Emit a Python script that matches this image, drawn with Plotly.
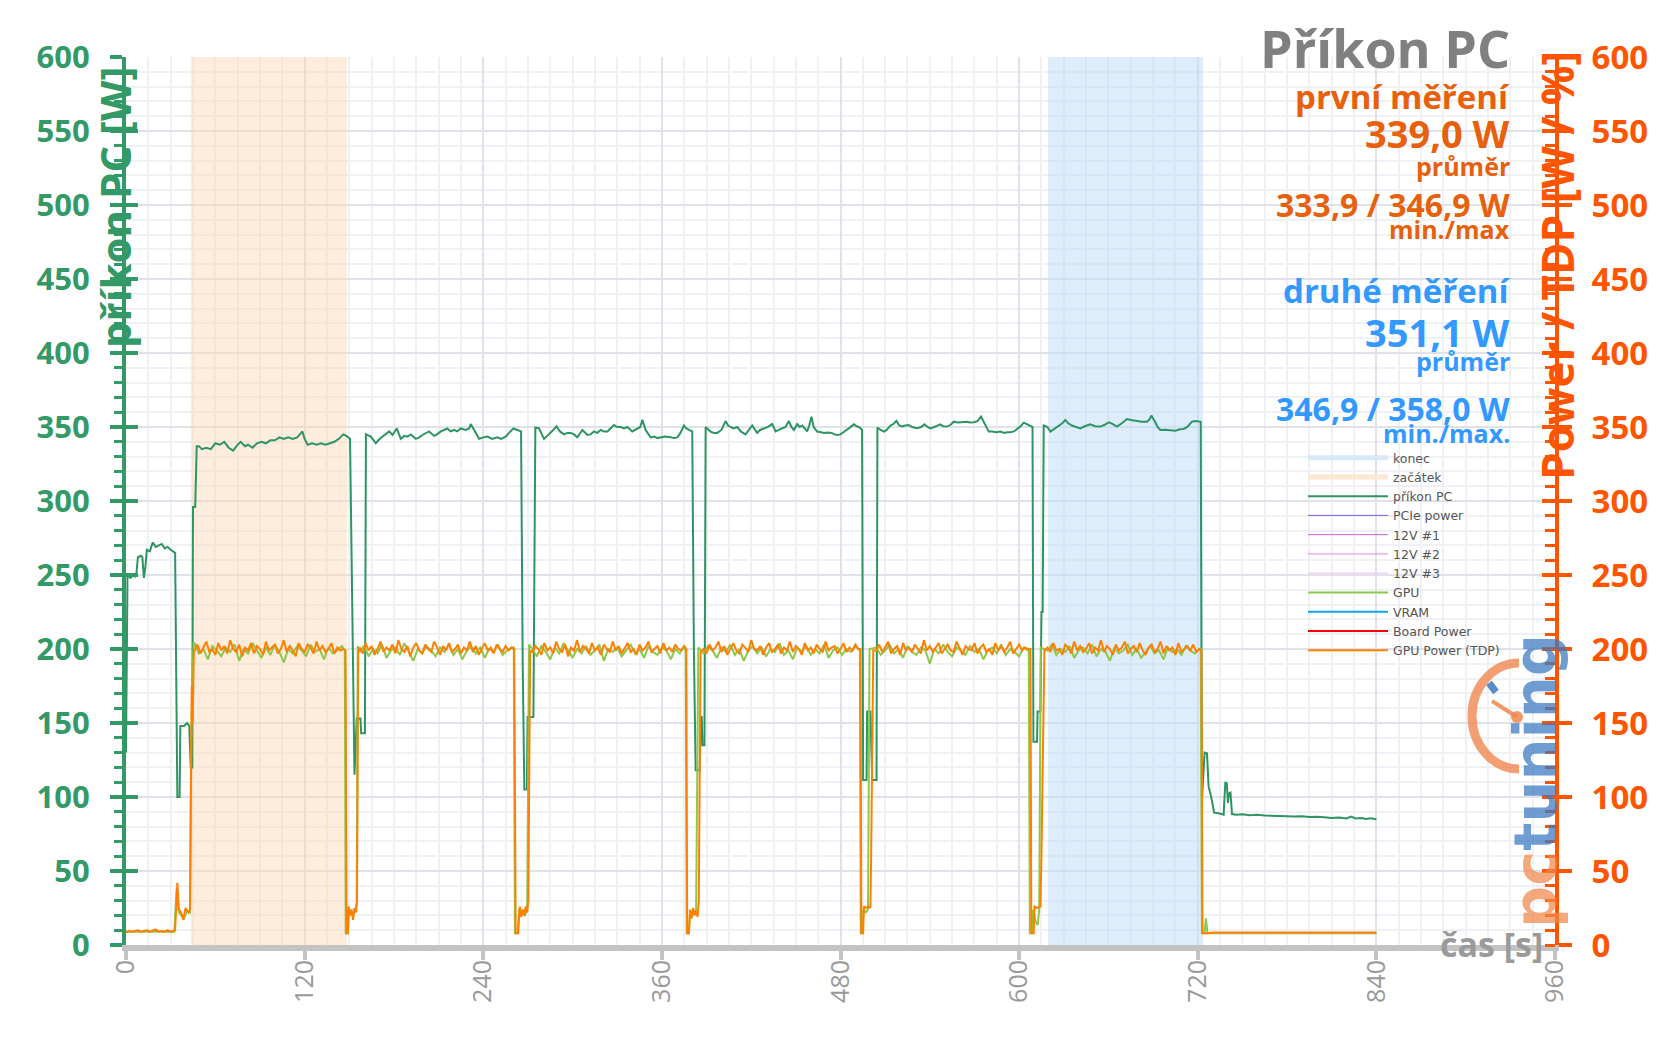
import plotly.graph_objects as go

# ---------------- data ----------------
# shaded measurement windows [s]
region_names = ["konec", "začátek"]
region_start = [619.5, 43.5]
region_end = [723.5, 148.4]

# PC power (wall) [W]
pc_t = [0, 1, 3, 5, 6, 7, 8, 10, 11, 12, 13, 14, 16, 18, 20, 22, 24, 26, 28, 30, 32, 33,
        34.5, 36, 36.5, 39, 41, 42.5, 43.5, 44.5, 45, 46.5, 47.5, 49, 51, 54, 57, 60, 63, 66,
        69, 72, 75, 77, 80, 82, 85, 88, 91, 94, 97, 100, 103, 106, 109, 112, 115, 117, 118.5,
        120, 122, 125, 128, 131, 134, 137, 140, 143, 146, 148, 150.5, 153.5, 155, 157.5, 158,
        160.5, 161.2,
        164.5, 167.8, 170.5, 173.4, 176.8, 179, 181.9, 184.6, 187, 189.1, 191.3, 194.7, 197,
        199.1, 201.5, 203.6, 207, 209, 211.5, 214, 215.9, 218, 220.4, 222.5, 224.9, 228.2,
        230.5, 231.6, 233.8, 235, 237.2, 240, 242.8, 246, 249.5, 252, 255.1, 257.3, 260.2,
        262.9, 265.4, 266.5, 267.6, 269.3, 269.8, 273.7, 275,
        277.5, 280.8, 283, 285.3, 287, 289.3, 291.5, 294.3, 296.5, 298.7, 301, 303.2, 306.6,
        310, 312, 314.4, 316.5, 318.9, 321, 323.4, 325.5, 327.8, 330, 332.3, 334.5, 336.8,
        340.1, 343.5, 345.5, 346.9, 349.1, 352.4, 355, 357, 359.2, 362, 365.9, 368, 370.4,
        372.5, 374.8, 376.5, 378.2, 380.4, 381.5, 382.7, 385.5, 386, 386.8, 387.2, 388.6, 389.4,
        392.7, 395, 397.2, 400, 402.8, 404.5, 406.2, 408, 410.6, 413, 416.2, 418.5, 420.7, 422,
        424, 426, 428.5, 431, 434.1, 436.4, 438.5, 440.8, 443, 445.3, 447, 448.7, 450.9, 452.5,
        454.3, 456, 457.6, 459, 460.5, 462, 464.3, 467, 469, 471, 474, 476, 477.8, 480, 482.2,
        484, 485.6, 487.5, 489, 491, 493, 494.5, 495.2, 497.5, 497.9, 500.1, 501.3, 504.2, 504.8,
        507, 509.1, 511, 513.6, 515.5, 517.6, 519.5, 521.4, 523.5, 525.9, 528, 531.5, 534,
        536.4, 538.5, 540.4, 543, 545, 547.1, 549, 551.6, 554, 556.1, 559, 562, 565, 567, 569.5,
        572, 574.4, 576.2, 578, 579.6, 582, 584.5, 587.4, 590, 592, 594.1, 596.5, 598.6, 601,
        603.1, 605.5, 607.6, 609, 609.6, 612, 612.4, 614.3, 615, 615.8, 616.5,
        619, 621, 624, 626.6, 629, 631.1, 633, 635.5, 638, 641.1, 644, 647.8, 651, 654.6, 657.5,
        660.2, 663, 665.8, 669, 672.5, 676, 679.2, 682.5, 685.9, 687.5, 688.8, 690, 691.5, 693,
        694.8, 698, 701.6, 705, 708, 710.5, 713, 716.1, 718.5, 720.6, 722,
        722.8, 724.6, 726.2, 727.3, 729, 731, 734, 737.4, 738.5, 739.5, 740.3, 741, 742, 743,
        746, 750, 755, 760, 765, 770, 775, 780, 785, 790, 795, 800, 805, 810, 815, 820, 823,
        826, 830, 833, 836, 840]
pc_v = [130, 250, 248, 250, 249, 251, 262, 263, 262, 248, 255, 267, 266, 272, 269, 270, 271, 268, 269, 267, 266, 265,
        100, 100, 148, 148, 150, 148, 120, 120, 296, 296, 337, 337, 335, 336, 335, 339, 338, 340,
        336, 334, 338, 340, 337, 338, 336, 339, 340, 339, 341, 341, 343, 342, 343, 342, 343, 345, 347,
        342, 338, 339, 338, 339, 338, 339, 340, 342, 345, 344, 342, 115, 153, 153, 143,
        143, 345,
        343.5, 339, 342, 344.6, 347, 344.6, 349, 342, 344, 343.5, 345, 342, 343,
        344.6, 346, 347, 344, 345, 347, 348, 349, 347, 348, 347, 349, 348,
        349, 352, 348, 345, 342, 343, 343.5, 342, 343, 342, 343.5, 346, 349,
        348, 347, 190, 105, 105, 154, 154, 349.6,
        349, 342, 344, 346, 348, 350.5, 347, 345, 346, 346, 345, 343, 348,
        344.6, 345, 347, 346, 348, 347, 347, 349, 351.4, 350, 350, 349, 350,
        347, 349, 350, 354.8, 348, 343, 343.5, 342.5, 343, 343.5, 343, 342.5, 343,
        346, 351, 349, 348, 347, 200, 118, 118, 154, 154, 135, 135, 350,
        346.9, 346, 346, 348, 354, 351, 350, 349, 350, 347, 345, 348, 351, 349,
        346, 348, 349, 350, 352, 347, 348, 349, 350, 354, 350, 348, 352, 350,
        351, 349, 347, 351, 357, 350, 346.9, 346.5, 346, 346.2, 346, 345, 344.6, 345, 346.9,
        348, 349.1, 350.5, 351.8, 350.5, 349.6, 348, 111.5, 111.5, 157.7, 157.7, 111.5, 111.5, 349.6,
        348, 346.9, 348, 351, 352, 354.1, 351, 350.3, 351, 351.4, 350, 349.1, 350,
        351.8, 350, 349.1, 350, 351, 351.8, 350.5, 350.3, 351.5, 353.6, 353, 353.2, 353.6, 353, 353.2,
        354, 357, 353.6, 350, 346.9, 347, 346.5, 346.9, 346, 346.5, 346.4, 347, 348.7, 350.5,
        352.9, 351.5, 350.3, 350, 137.4, 137.4, 157.7, 157.7, 225, 225, 351,
        350, 346.9, 349, 351.4, 352.5, 354.8, 352.5, 351, 350, 349.1, 350.5, 351.8, 350.5, 350.3, 351.5,
        353.2, 352, 350.3, 352.5, 355.4, 354.5, 354.1, 353.5, 353.6, 355, 357.7, 356, 353.2, 350,
        348, 348.2, 348, 347.5, 348.5, 348.7, 350, 353.6, 354, 353.6, 353.5,
        98, 130, 129.5, 107, 100.2, 89.4, 89, 88, 109.5, 109.2, 96, 102.5, 103, 88.5,
        88, 88.3, 87.7, 88, 87.5, 87.4, 87.6, 87, 86.8, 87, 86.5, 86.7, 86.3, 85.8, 86.2, 85.5, 86.8,
        85.5, 85.8, 85.2, 85.6, 85]

# GPU Power (TDP) [W]: idle start, load runs (2 s samples) and gaps between runs
tdp_idle_t = [0, 2, 4, 6, 8, 10, 12, 14, 16, 18, 20, 22, 24, 26, 28, 30, 32, 33, 34.5, 35.5, 37, 38.5,
              40, 42, 43, 43.7, 44.2, 44.8, 45.6]
tdp_idle_v = [8.5, 9.5, 9, 9.5, 10, 9, 9.5, 10, 9, 9.5, 10.5, 9, 9.5, 9, 10, 9, 9.5, 10, 42, 24, 22, 17,
              25, 22, 24, 120, 175, 150, 200]
tdp_run_start = [46, 157, 273, 388, 504, 619]
tdp_run1 = [199, 203, 197, 201, 205, 198, 200, 196, 204, 199, 202, 197, 206, 200, 198, 203, 195, 201, 199, 204,
            197, 202, 200, 196, 205, 199, 201, 203, 197, 200, 206, 198, 202, 199, 195, 204, 200, 198, 203, 201,
            197, 205, 199, 202, 198, 200, 204, 197, 201, 199, 200]
tdp_run2 = [201, 197, 204, 199, 202, 196, 200, 205, 198, 201, 199, 203, 197, 206, 200, 198, 202, 195, 201, 204,
            199, 197, 203, 200, 198, 205, 201, 196, 202, 199, 204, 198, 200, 203, 197, 201, 199, 205, 198, 202,
            196, 200, 204, 199, 201, 197, 203, 200, 198, 202, 199, 201]
tdp_run3 = [198, 202, 200, 196, 204, 199, 201, 197, 205, 200, 198, 203, 195, 201, 199, 206, 198, 202, 200, 197,
            204, 199, 201, 196, 203, 200, 198, 205, 199, 202, 197, 201, 204, 198, 200, 196, 203, 199, 201, 205,
            198, 200, 202, 197, 204, 199, 201, 198, 203, 200, 199, 202]
tdp_run4 = [200, 197, 203, 199, 201, 205, 198, 202, 196, 200, 204, 199, 197, 203, 201, 198, 206, 200, 199, 202,
            196, 201, 204, 198, 200, 203, 197, 201, 199, 205, 198, 202, 200, 196, 204, 199, 201, 197, 203, 200,
            198, 205, 199, 201, 202, 197, 200, 204, 198, 201, 199, 203, 200]
tdp_run5 = [199, 203, 198, 201, 205, 197, 200, 202, 196, 204, 199, 201, 198, 203, 200, 197, 206, 199, 202, 198,
            201, 204, 197, 200, 203, 199, 198, 205, 201, 196, 202, 200, 199, 204, 197, 201, 203, 198, 200, 196,
            204, 199, 202, 198, 201, 205, 197, 200, 203, 199, 201, 200]
tdp_run6 = [201, 198, 204, 199, 200, 196, 203, 201, 197, 205, 199, 202, 198, 200, 204, 197, 201, 199, 206, 198,
            202, 200, 196, 203, 199, 201, 205, 197, 200, 202, 198, 204, 199, 196, 201, 203, 198, 200, 205, 197,
            202, 199, 201, 196, 204, 198, 200, 202, 199, 203, 198, 200]
tdp_gap_t = [
    [147.5, 148.2, 149, 149.6, 150.5, 151.5, 152.5, 153.5, 154.5, 155.2, 156],
    [260.8, 261.8, 263.5, 264.5, 265.5, 266.5, 267.5, 268.5, 269.5, 270.3, 271.5],
    [376.4, 377, 378.2, 379, 380, 381, 382, 383, 384, 384.8, 386],
    [493.4, 494, 495.2, 495.7, 497, 498.5, 500.1, 500.6, 502],
    [607.6, 608.2, 609.8, 610.3, 612, 614.3, 615, 617],
    [722.5, 723.2, 726, 730, 740, 760, 780, 800, 820, 840],
]
tdp_gap_v = [
    [199, 8, 8, 26, 20, 24, 17, 25, 22, 30, 198],
    [200, 8, 8, 26, 19, 24, 20, 26, 22, 30, 199],
    [200, 8, 8, 24, 18, 25, 20, 23, 19, 30, 198],
    [200, 8, 8, 26, 25, 26, 25, 60, 199],
    [200, 8, 8, 26, 25, 26, 60, 199],
    [199, 8, 8, 8.5, 8.5, 8.5, 8.5, 8.5, 8.5, 8.5],
]

# GPU chip power [W] (3 s samples during load)
gpu_idle_t = [0, 10, 20, 30, 32.5, 34, 35.5, 37, 39, 41, 43, 43.7, 44.5, 45.5]
gpu_idle_v = [9, 9, 9, 9, 9, 38, 22, 20, 18, 23, 22, 130, 180, 204]
gpu_run_start = [46, 157, 273, 388, 504, 619]
gpu_run1 = [204, 197, 200, 193, 202, 199, 195, 201, 198, 203, 192, 200, 197, 204, 199, 194, 201, 196, 203, 198,
            191, 200, 197, 202, 199, 195, 203, 198, 200, 193, 201, 197, 199, 202]
gpu_run2 = [198, 202, 195, 200, 197, 203, 194, 199, 201, 196, 204, 198, 192, 200, 197, 202, 199, 195, 201, 198,
            203, 196, 200, 193, 199, 202, 197, 201, 194, 200, 198, 203, 196, 199, 201]
gpu_run3 = [200, 195, 202, 198, 193, 201, 197, 204, 199, 194, 200, 197, 202, 196, 199, 203, 192, 200, 198, 201,
            195, 199, 203, 197, 200, 194, 202, 198, 196, 201, 199, 193, 200, 197, 202]
gpu_run4 = [197, 202, 199, 194, 201, 198, 203, 196, 200, 192, 199, 202, 197, 201, 195, 200, 198, 204, 196, 199,
            193, 201, 198, 202, 196, 200, 197, 203, 194, 199, 201, 196, 200, 198, 202]
gpu_run5 = [201, 196, 199, 203, 197, 200, 194, 202, 198, 196, 201, 199, 190, 200, 197, 203, 198, 195, 201, 199,
            196, 202, 198, 200, 193, 199, 201, 197, 203, 196, 200, 198, 195, 201, 199]
gpu_run6 = [199, 203, 196, 200, 198, 202, 194, 199, 201, 197, 203, 195, 200, 198, 192, 201, 197, 199, 203, 196,
            200, 194, 198, 202, 197, 199, 193, 201, 198, 200, 196, 202, 199, 197, 200]
gpu_gap_t = [
    [147, 147.6, 149, 149.8, 151, 152.5, 154, 155, 155.7],
    [260.5, 261.3, 263, 264.2, 266, 268, 269.5, 270.8],
    [376, 376.7, 378, 379, 381, 383, 384.5],
    [493, 493.6, 494.8, 495.5, 497, 498.5, 499.5],
    [606.5, 607.2, 608.5, 609.5, 611, 612.5, 613.5, 614.5],
    [722, 722.8, 724.5, 725.5, 726.5, 840],
]
gpu_gap_v = [
    [199, 8, 8, 25, 22, 20, 23, 28, 202],
    [201, 8, 8, 24, 22, 20, 24, 203],
    [198, 8, 8, 22, 21, 24, 201],
    [199, 8, 8, 24, 22, 24, 200],
    [200, 8, 8, 24, 16, 13.5, 24, 201],
    [200, 8, 8, 18, 8, 8],
]

x_ticks = [0, 120, 240, 360, 480, 600, 720, 840, 960]
y_ticks = [0, 50, 100, 150, 200, 250, 300, 350, 400, 450, 500, 550, 600]


def series(idle_t, idle_v, starts, runs, step, gaps_t, gaps_v):
    xs, ys = list(idle_t), list(idle_v)
    for s, run, gt, gv in zip(starts, runs, gaps_t, gaps_v):
        xs += [s + step * i for i in range(len(run))]
        ys += run
        xs += gt
        ys += gv
    return xs, ys


tdp_t, tdp_v = series(tdp_idle_t, tdp_idle_v, tdp_run_start,
                      [tdp_run1, tdp_run2, tdp_run3, tdp_run4, tdp_run5, tdp_run6], 2, tdp_gap_t, tdp_gap_v)
gpu_t, gpu_v = series(gpu_idle_t, gpu_idle_v, gpu_run_start,
                      [gpu_run1, gpu_run2, gpu_run3, gpu_run4, gpu_run5, gpu_run6], 3, gpu_gap_t, gpu_gap_v)

# ---------------- styling ----------------
GREEN = "#339966"
ORANGE_AX = "#ff5500"
ORANGE_TXT = "#e8600c"
BLUE_TXT = "#3399ff"
GRAY = "#9a9a9a"
FONT = "Open Sans"

L, R, T, B = 126, 102, 57, 99
W, H = 1657, 1044
PW, PH = W - L - R, H - T - B


def px(x):
    return (x - L) / PW


def py(y):
    return (T + PH - y) / PH


fig = go.Figure()

region_colors = ["rgba(190,220,250,0.5)", "rgba(253,215,180,0.45)"]
legend_region_colors = ["#d9e9fa", "#fde6d2"]
for name, c in zip(region_names, legend_region_colors):
    fig.add_trace(go.Scatter(x=[None], y=[None], mode="lines", name=name,
                             line=dict(color=c, width=5)))
for s, e, c in zip(region_start, region_end, region_colors):
    fig.add_shape(type="rect", xref="x", yref="y", x0=s, x1=e, y0=0, y1=600,
                  fillcolor=c, line=dict(width=0), layer="between")

fig.add_trace(go.Scatter(x=pc_t, y=pc_v, mode="lines", name="příkon PC",
                         line=dict(color="#2e9463", width=2)))
for name, c in [("PCIe power", "#7b5ce6"), ("12V #1", "#d460d8"), ("12V #2", "#e88ae8"),
                ("12V #3", "#f2b6f2")]:
    fig.add_trace(go.Scatter(x=[None], y=[None], mode="lines", name=name, yaxis="y2",
                             line=dict(color=c, width=1)))
fig.add_trace(go.Scatter(x=gpu_t, y=gpu_v, mode="lines", name="GPU", yaxis="y2",
                         line=dict(color="#8cc84b", width=2)))
fig.add_trace(go.Scatter(x=[None], y=[None], mode="lines", name="VRAM", yaxis="y2",
                         line=dict(color="#12a5e8", width=2)))
fig.add_trace(go.Scatter(x=[None], y=[None], mode="lines", name="Board Power", yaxis="y2",
                         line=dict(color="#ff0000", width=2)))
fig.add_trace(go.Scatter(x=tdp_t, y=tdp_v, mode="lines", name="GPU Power (TDP)", yaxis="y2",
                         line=dict(color="#ff8000", width=2)))
# helpers so the overlay tick axes exist
fig.add_trace(go.Scatter(x=[None], y=[None], yaxis="y3", showlegend=False, hoverinfo="skip"))
fig.add_trace(go.Scatter(x=[None], y=[None], yaxis="y4", showlegend=False, hoverinfo="skip"))

grid_major = "#dfe2e8"
grid_minor = "#eff1f5"

fig.update_layout(
    width=W, height=H,
    margin=dict(l=L, r=R, t=T, b=B, pad=0, autoexpand=False),
    paper_bgcolor="white", plot_bgcolor="white",
    font=dict(family=FONT),
    showlegend=True,
    legend=dict(x=px(1303), y=py(443), xanchor="left", yanchor="top",
                bgcolor="rgba(0,0,0,0)", font=dict(size=12.5, color="#555", family="DejaVu Sans"),
                itemwidth=80, tracegroupgap=0),
    xaxis=dict(range=[0, 960], tickvals=x_ticks, ticktext=[str(v) for v in x_ticks],
               tickangle=-90, tickfont=dict(size=25, color=GRAY, family=FONT),
               showgrid=True, gridcolor=grid_major, gridwidth=2,
               minor=dict(dtick=15, tick0=0, showgrid=True, gridcolor=grid_minor, gridwidth=2, ticks=""),
               showline=True, linecolor="#c3c3c3", linewidth=6,
               ticks="outside", ticklen=9, tickwidth=4, tickcolor="#c3c3c3",
               zeroline=False, automargin=False, ticklabelstandoff=-10),
    yaxis=dict(range=[0, 600], tickvals=y_ticks, showgrid=True, gridcolor=grid_major, gridwidth=2,
               minor=dict(dtick=10, tick0=0, showgrid=True, gridcolor=grid_minor, gridwidth=2,
                          ticks="outside", ticklen=8, tickwidth=3, tickcolor=GREEN),
               tickfont=dict(size=31, color=GREEN, family=FONT, weight="bold"),
               ticks="outside", ticklen=12, tickwidth=4, tickcolor=GREEN,
               showline=True, linecolor=GREEN, linewidth=4, zeroline=False,
               automargin=False, ticklabelstandoff=14),
    yaxis2=dict(range=[0, 600], tickvals=y_ticks, overlaying="y", side="right", showgrid=False,
                tickfont=dict(size=33, color=ORANGE_AX, family=FONT, weight="bold"),
                ticks="outside", ticklen=13, tickwidth=4, tickcolor=ORANGE_AX,
                minor=dict(dtick=10, tick0=0, ticks="inside", ticklen=10, tickwidth=3,
                           tickcolor=ORANGE_AX, showgrid=False),
                showline=True, linecolor=ORANGE_AX, linewidth=4, zeroline=False,
                automargin=False, ticklabelstandoff=13),
    yaxis3=dict(range=[0, 600], tickvals=y_ticks, overlaying="y", side="left", showgrid=False,
                showticklabels=False, ticks="inside", ticklen=12, tickwidth=4, tickcolor=GREEN,
                showline=False, zeroline=False, automargin=False),
    yaxis4=dict(range=[0, 600], tickvals=y_ticks, overlaying="y", side="right", showgrid=False,
                showticklabels=False, ticks="inside", ticklen=13, tickwidth=4, tickcolor=ORANGE_AX,
                showline=False, zeroline=False, automargin=False),
)

ann = []


def text(x, y, s, size, color, xanchor="right", angle=0, bold=True, family=FONT, opacity=1):
    ann.append(dict(x=px(x), y=py(y), xref="paper", yref="paper", text=s, showarrow=False,
                    xanchor=xanchor, yanchor="middle", textangle=angle, opacity=opacity,
                    font=dict(size=size, color=color, family=family,
                              weight="bold" if bold else "normal")))


RX = 1512
text(RX, 47, "Příkon PC", 52, "#808080")
text(RX, 96, "první měření", 33, ORANGE_TXT)
text(RX, 133, "339,0 W", 38, ORANGE_TXT)
text(RX, 166, "průměr", 25, ORANGE_TXT)
text(RX, 204, "333,9 / 346,9 W", 32, ORANGE_TXT)
text(RX, 229, "min./max", 25, ORANGE_TXT)
text(RX, 290, "druhé měření", 33, BLUE_TXT)
text(RX, 332, "351,1 W", 38, BLUE_TXT)
text(RX, 361, "průměr", 25, BLUE_TXT)
text(RX, 409, "346,9 / 358,0 W", 32, BLUE_TXT)
text(RX, 433, "min./max.", 25, BLUE_TXT)

# axis titles
text(114, 207, "příkon PC [W]", 42, GREEN, xanchor="center", angle=-90)
text(1557, 266, "Power / TDP [W / %]", 44, ORANGE_AX, xanchor="center", angle=-90)
text(1491, 944, "čas [s]", 34, GRAY, xanchor="center")

# pctuning logo (watermark)
text(1535, 781, "<span style='color:#f0874a'>pc</span><span style='color:#3a78c0'>tuning</span>",
     59, "#3a78c0", xanchor="center", angle=-90, bold=True, family="DejaVu Sans", opacity=0.72)

fig.update_layout(annotations=ann)

# gauge of the logo
cx, cy, rx, ry = 1519, 716, 47, 53
kx, ky = 0.5523 * rx, 0.5523 * ry
pts = [(cx, cy - ry), (cx - kx, cy - ry), (cx - rx, cy - ky), (cx - rx, cy),
       (cx - rx, cy + ky), (cx - kx, cy + ry), (cx, cy + ry)]
P = [(px(a), py(b)) for a, b in pts]
path = (f"M {P[0][0]},{P[0][1]} C {P[1][0]},{P[1][1]} {P[2][0]},{P[2][1]} {P[3][0]},{P[3][1]} "
        f"C {P[4][0]},{P[4][1]} {P[5][0]},{P[5][1]} {P[6][0]},{P[6][1]}")
fig.add_shape(type="path", xref="paper", yref="paper", path=path,
              line=dict(color="rgba(240,135,80,0.8)", width=9), layer="above")
fig.add_shape(type="line", xref="paper", yref="paper", x0=px(1517), y0=py(717), x1=px(1492), y1=py(701),
              line=dict(color="rgba(240,135,80,0.85)", width=4), layer="above")
fig.add_shape(type="circle", xref="paper", yref="paper", x0=px(1511), x1=px(1523),
              y0=py(723), y1=py(711), fillcolor="rgba(240,135,80,0.85)", line=dict(width=0),
              layer="above")
fig.add_shape(type="line", xref="paper", yref="paper", x0=px(1489), y0=py(683), x1=px(1496), y1=py(692),
              line=dict(color="rgba(58,120,192,0.85)", width=7), layer="above")

fig.write_html("out.html", config={"displayModeBar": False},
               post_script="document.body.style.margin='0px';document.body.style.padding='0px';")
